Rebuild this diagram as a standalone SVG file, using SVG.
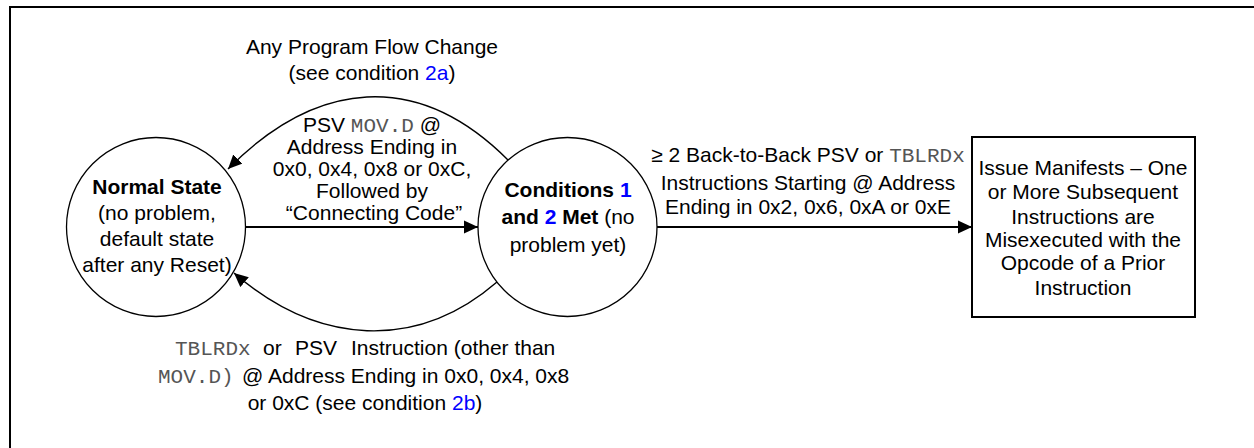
<svg xmlns="http://www.w3.org/2000/svg" width="1254" height="448" viewBox="0 0 1254 448">
<defs>
<marker id="ah" markerUnits="userSpaceOnUse" markerWidth="14" markerHeight="14" viewBox="0 0 14 14" refX="14" refY="7" orient="auto">
<path d="M0,0.5 L14,7 L0,13.5 z" fill="#000"/>
</marker>
<style>
text{font-family:"Liberation Sans",Arial,sans-serif;font-size:21px;fill:#000;text-anchor:middle}
.b{font-weight:bold}
.blue{fill:#0000ff}
.mono{font-family:"Liberation Mono","Courier New",monospace;fill:#555}
.node{fill:#fff;stroke:#000;stroke-width:1.3}
.line{fill:none;stroke:#000;stroke-width:2}
.arc{fill:none;stroke:#000;stroke-width:1.4}
</style>
</defs>
<rect width="1254" height="448" fill="#fff"/>
<path d="M10,448 V7 H1254" fill="none" stroke="#000" stroke-width="2"/>
<g id="connectors">
<path class="line" d="M245,227 H478" marker-end="url(#ah)"/>
<path class="line" d="M657,227 H972" marker-end="url(#ah)"/>
<path class="arc" d="M508,160 C417,69 316,80 228,169" marker-end="url(#ah)"/>
<path class="arc" d="M497,282 C417,351 318,346 234,273" marker-end="url(#ah)"/>
</g>
<g id="normal-state">
<circle class="node" cx="156" cy="227" r="89.5"/>
<text x="157" y="194" class="b">Normal State</text>
<text x="157" y="220">(no problem,</text>
<text x="157" y="246">default state</text>
<text x="157" y="272">after any Reset)</text>
</g>
<g id="conditions-met">
<circle class="node" cx="567.5" cy="227" r="89.5"/>
<text x="568" y="197"><tspan class="b">Conditions </tspan><tspan class="b blue">1</tspan></text>
<text x="568" y="224"><tspan class="b">and </tspan><tspan class="b blue">2</tspan><tspan class="b"> Met</tspan> (no</text>
<text x="568" y="252">problem yet)</text>
</g>
<g id="issue-manifests">
<rect x="972" y="137" width="223" height="180" fill="#fff" stroke="#000" stroke-width="2"/>
<text x="1083" y="175">Issue Manifests – One</text>
<text x="1083" y="199">or More Subsequent</text>
<text x="1083" y="224">Instructions are</text>
<text x="1083" y="247">Misexecuted with the</text>
<text x="1083" y="270">Opcode of a Prior</text>
<text x="1083" y="295">Instruction</text>
</g>
<g id="labels">
<text x="372" y="54">Any Program Flow Change</text>
<text x="372" y="80">(see condition <tspan class="blue">2a</tspan>)</text>
<text x="372" y="132">PSV <tspan class="mono">MOV.D</tspan> @</text>
<text x="372" y="154">Address Ending in</text>
<text x="372" y="176">0x0, 0x4, 0x8 or 0xC,</text>
<text x="372" y="198">Followed by</text>
<text x="374" y="220">“Connecting Code”</text>
<text x="808" y="162">≥ 2 Back-to-Back PSV or <tspan class="mono">TBLRDx</tspan></text>
<text x="808" y="190">Instructions Starting @ Address</text>
<text x="808" y="214">Ending in 0x2, 0x6, 0xA or 0xE</text>
<text x="175" y="355" class="mono" style="text-anchor:start">TBLRDx</text>
<text x="263" y="355" style="text-anchor:start">or</text>
<text x="295" y="355" style="text-anchor:start">PSV</text>
<text x="351" y="355" style="text-anchor:start">Instruction (other than</text>
<text x="158" y="383" class="mono" style="text-anchor:start">MOV.D)</text>
<text x="242" y="383" style="text-anchor:start">@ Address Ending in 0x0, 0x4, 0x8</text>
<text x="365" y="410">or 0xC (see condition <tspan class="blue">2b</tspan>)</text>
</g>
</svg>
